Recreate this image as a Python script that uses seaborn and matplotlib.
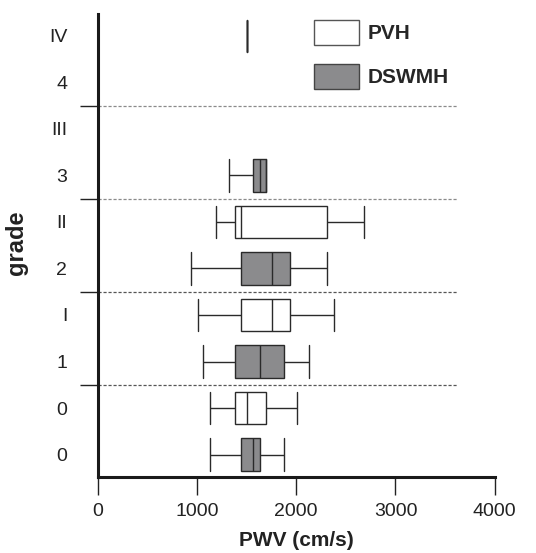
import numpy as np
import pandas as pd
import seaborn as sns
import matplotlib.pyplot as plt
from matplotlib.patches import Patch

# rows from top to bottom, one box per row
row_labels = ['IV', '4', 'III', '3', 'II', '2', 'I', '1', '0', '0']
row_groups = ['PVH', 'DSWMH', 'PVH', 'DSWMH', 'PVH', 'DSWMH', 'PVH', 'DSWMH', 'PVH', 'DSWMH']

# five-number summaries (whisker low, Q1, median, Q3, whisker high), cm/s
pvh_IV = [1504, 1504, 1504, 1504, 1504]
dswmh_4 = []
pvh_III = []
dswmh_3 = [1320, 1568, 1632, 1693, 1693]
pvh_II = [1195, 1380, 1441, 2313, 2683]
dswmh_2 = [943, 1441, 1753, 1941, 2310]
pvh_I = [1008, 1441, 1753, 1941, 2378]
dswmh_1 = [1064, 1380, 1632, 1877, 2126]
pvh_0 = [1135, 1380, 1504, 1693, 2005]
dswmh_0 = [1135, 1441, 1568, 1632, 1877]

row_values = [pvh_IV, dswmh_4, pvh_III, dswmh_3, pvh_II,
              dswmh_2, pvh_I, dswmh_1, pvh_0, dswmh_0]

x_ticks = [0, 1000, 2000, 3000, 4000]

records = []
row_ids = ['r%d' % i for i in range(len(row_labels))]
for rid, grp, vals in zip(row_ids, row_groups, row_values):
    for v in vals:
        records.append({'row': rid, 'group': grp, 'PWV': v})
df = pd.DataFrame(records)

sns.set_style('white')
plt.rcParams['font.family'] = ['Liberation Sans', 'DejaVu Sans']

fig = plt.figure(figsize=(5.36, 5.53), dpi=100)
ax = fig.add_axes([0.1823, 0.138, 0.7407, 0.8367])

box_w = 0.69
palette = {'PVH': 'white', 'DSWMH': '#8b8b8d'}
sns.boxplot(data=df, x='PWV', y='row', hue='group', order=row_ids,
            palette=palette, dodge=False, width=box_w, whis=(0, 100),
            linecolor='#2a2a2a', linewidth=1.0, ax=ax, legend=False)

# caps as tall as the boxes (seaborn draws them at half the box height)
for ln in ax.lines:
    xd = np.asarray(ln.get_xdata(), float)
    yd = np.asarray(ln.get_ydata(), float)
    if len(xd) == 2 and np.isclose(xd[0], xd[1]):
        span = abs(yd[1] - yd[0])
        if 0 < span < box_w * 0.9:
            c = yd.mean()
            ln.set_ydata([c - box_w / 2, c + box_w / 2])

# separators between grades
sep_pos = [1.5, 3.5, 5.5, 7.5]
sep_cols = ['#8a8a8a', '#8a8a8a', '#555555', '#555555']
for yy, c in zip(sep_pos, sep_cols):
    ax.plot([0, 3620], [yy, yy], color=c, lw=0.9, ls=(0, (2.5, 1.5)), zorder=0.5)

ax.set_xlim(0, 4000)
ax.set_ylim(len(row_labels) - 0.523, -0.473)

ax.set_xticks(x_ticks)
ax.set_xticklabels([str(t) for t in x_ticks], fontsize=14, color='#222222')
ax.tick_params(axis='x', bottom=True, direction='out', length=13, width=1,
               color='#222222', pad=6)

ax.set_yticks(sep_pos)
ax.set_yticklabels([])
ax.tick_params(axis='y', which='major', left=True, direction='out', length=13,
               width=1, color='#222222')
ax.set_yticks(range(len(row_labels)), minor=True)
ax.set_yticklabels(row_labels, minor=True, fontsize=14, color='#222222')
ax.tick_params(axis='y', which='minor', left=True, length=0, pad=22)

for side in ['top', 'right']:
    ax.spines[side].set_visible(False)
for side in ['left', 'bottom']:
    ax.spines[side].set_linewidth(2.2)
    ax.spines[side].set_color('#1a1a1a')

ax.set_xlabel('PWV (cm/s)', fontsize=15, fontweight='bold', color='#222222', labelpad=8)
ax.set_ylabel('grade', fontsize=17, fontweight='bold', color='#222222')
ax.yaxis.set_label_coords(-0.176, 0.505)

handles = [Patch(facecolor='white', edgecolor='#555555', linewidth=1),
           Patch(facecolor='#8b8b8d', edgecolor='#444444', linewidth=1)]
ax.legend(handles, ['PVH', 'DSWMH'], loc='upper left',
          bbox_to_anchor=(314 / 536, 1 - 20 / 553), bbox_transform=fig.transFigure,
          frameon=False, borderpad=0, borderaxespad=0,
          handlelength=2.16, handleheight=1.47,
          handletextpad=0.43, labelspacing=0.9,
          prop={'weight': 'bold', 'size': 15})

fig.savefig('out.png', dpi=100)
